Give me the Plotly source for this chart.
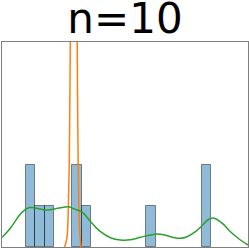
import plotly.graph_objects as go

# Histogram (bin width 1, bins starting at 0)
bin_left = [0, 1, 2, 5, 6, 13, 19]
bin_count = [2, 1, 1, 2, 1, 1, 2]

# Green smooth density curve
green_x = [-2.62, -1.70, -0.62, 0.25, 0.57, 1.55, 2.09, 3.17, 4.25, 4.57, 5.33, 6.09,
           6.95, 8.03, 9.11, 10.19, 11.28, 12.36, 13.44, 14.09, 14.84, 16.03, 16.68,
           17.33, 18.30, 19.16, 19.70, 20.24, 21.21, 22.08, 23.16, 23.98]
green_y = [0.232, 0.463, 0.805, 0.959, 0.963, 0.927, 0.902, 0.934, 0.976, 0.983, 0.915, 0.846,
           0.622, 0.373, 0.227, 0.171, 0.178, 0.237, 0.293, 0.317, 0.300, 0.227, 0.212,
           0.244, 0.373, 0.554, 0.671, 0.707, 0.578, 0.373, 0.171, 0.049]

# Orange narrow spike
orange_x = [4.141, 4.389, 4.486, 4.562, 4.649, 4.714, 4.768, 4.832, 4.930, 5.146,
            5.351, 5.449, 5.514, 5.557, 5.622, 5.686, 5.751, 5.827, 5.924]
orange_y = [0.0, 0.2, 0.5, 1.0, 2.0, 3.5, 5.0, 8.0, 14.0, 21.6,
            14.0, 8.0, 5.0, 3.5, 2.0, 1.0, 0.5, 0.2, 0.0]

title_text = "n=10"

fig = go.Figure()
fig.add_trace(go.Bar(
    x=[b + 0.5 for b in bin_left], y=bin_count, width=1,
    marker=dict(color="rgba(31,119,180,0.5)",
                line=dict(color="rgba(0,0,0,0.45)", width=1)),
    showlegend=False, hoverinfo="skip"))
fig.add_trace(go.Scatter(
    x=orange_x, y=orange_y, mode="lines", line=dict(color="#ff7f0e", width=1.5, shape="spline"),
    showlegend=False))
fig.add_trace(go.Scatter(
    x=green_x, y=green_y, mode="lines", line=dict(color="#2ca02c", width=1.5, shape="spline"),
    showlegend=False))

axis_common = dict(showgrid=False, zeroline=False, showticklabels=False, ticks="",
                   showline=True, mirror=True, linecolor="#7f7f7f", linewidth=1)
fig.update_layout(
    width=249, height=248,
    margin=dict(l=2, r=1, t=42, b=1),
    paper_bgcolor="white", plot_bgcolor="white",
    bargap=0,
    title=dict(text=title_text, x=0.5, xanchor="center", xref="paper",
               y=1 - 18 / 248, yref="container", yanchor="middle",
               font=dict(family="DejaVu Sans", size=42, color="black")),
    xaxis=dict(range=[-2.62, 23.98], **axis_common),
    yaxis=dict(range=[0, 5], **axis_common),
)
fig.write_html("out.html", config={"displayModeBar": False},
               post_script="document.body.style.margin='0';document.body.style.overflow='hidden';")
